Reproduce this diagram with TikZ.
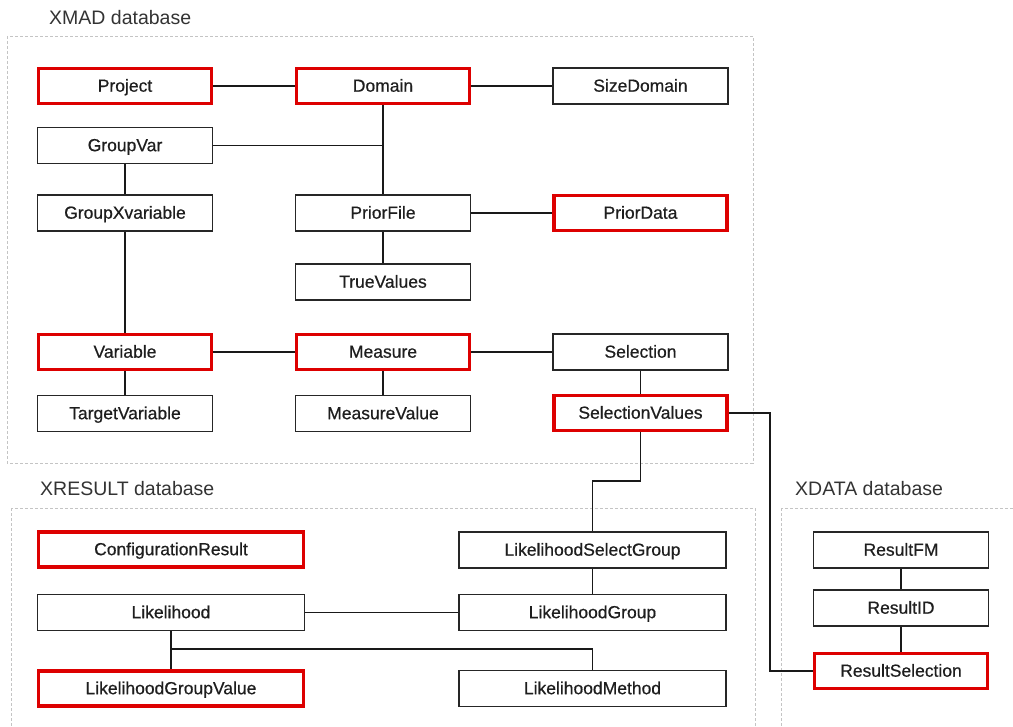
\documentclass[tikz,border=0pt]{standalone}
\usepackage{fontspec}
\setmainfont{Liberation Sans}
\newfontfamily\nodefont[FakeBold=0.6]{Liberation Sans}
\definecolor{boxred}{HTML}{DD0000}
\definecolor{txt}{HTML}{1E1E1E}
\definecolor{dashgray}{HTML}{C4C4C4}
\definecolor{titlegray}{HTML}{333333}
\begin{document}
\begin{tikzpicture}[x=1bp,y=-1bp,
  box/.style={draw=black!85, line width=1.3bp, rectangle, inner sep=0pt,
    minimum height=36bp, text=txt, text height=12.6bp, text depth=1.2bp,
    font=\nodefont\fontsize{17.5bp}{20bp}\selectfont},
  redbox/.style={box, draw=boxred, line width=3.2bp, minimum height=35bp},
  wA/.style={minimum width=175bp},
  rA/.style={minimum width=173bp},
  wD/.style={minimum width=267bp},
  rD/.style={minimum width=265bp},
  conn/.style={draw=black!90, line width=1.3bp},
  container/.style={draw=dashgray, line width=0.9bp, dash pattern=on 3bp off 2bp},
  title/.style={anchor=west, inner sep=0pt, text=titlegray,
    font=\fontsize{19.5bp}{22bp}\selectfont}
]
\useasboundingbox (0,0) rectangle (1013,727);
% containers
\draw[container] (7,36) rectangle (753,463);
\begin{scope}
\clip (0,0) rectangle (1013,727);
\draw[container] (11,508) rectangle (755,740);
\draw[container] (781,508) rectangle (1030,740);
\end{scope}
\node[title] (t1) at (49,18) {XMAD database};
\node[title] (t2) at (40,489) {XRESULT database};
\node[title] (t3) at (795,489) {XDATA database};

% XMAD nodes
\node[redbox,rA] (project) at (125,86) {Project};
\node[redbox,rA] (domain) at (383,86) {Domain};
\node[box,wA] (sizedomain) at (640.5,86) {SizeDomain};
\node[box,wA] (groupvar) at (125,145.5) {GroupVar};
\node[box,wA] (groupx) at (125,213) {GroupXvariable};
\node[box,wA] (priorfile) at (383,213) {PriorFile};
\node[redbox,rA] (priordata) at (640.5,213) {PriorData};
\node[box,wA] (truevalues) at (383,282) {TrueValues};
\node[redbox,rA] (variable) at (125,352) {Variable};
\node[redbox,rA] (measure) at (383,352) {Measure};
\node[box,wA] (selection) at (640.5,352) {Selection};
\node[box,wA] (targetvar) at (125,413.5) {TargetVariable};
\node[box,wA] (measurevalue) at (383,413.5) {MeasureValue};
\node[redbox,rA] (selvalues) at (640.5,413) {SelectionValues};

% XRESULT nodes
\node[redbox,rD] (configres) at (171,549.5) {ConfigurationResult};
\node[box,wD] (likelihood) at (171,612.5) {Likelihood};
\node[redbox,rD] (lgv) at (171,688.5) {LikelihoodGroupValue};
\node[box,wD] (lsg) at (592.5,550) {LikelihoodSelectGroup};
\node[box,wD] (lgroup) at (592.5,612.5) {LikelihoodGroup};
\node[box,wD] (lmethod) at (592.5,688.5) {LikelihoodMethod};

% XDATA nodes
\node[box,wA] (resultfm) at (901,550) {ResultFM};
\node[box,wA] (resultid) at (901,608) {ResultID};
\node[redbox,rA] (resultsel) at (901,671) {ResultSelection};

% junction coordinates
\coordinate (jgv) at (domain.south |- groupvar.east);
\coordinate (jsv) at (640.5,481);
\coordinate (jsv2) at (592.5,481);
\coordinate (jsr) at (770,413);
\coordinate (jsr2) at (770,671);
\coordinate (jlk) at (171,649);
\coordinate (jlk2) at (592.5,649);

% connectors
\draw[conn] (project) -- (domain);
\draw[conn] (domain) -- (sizedomain);
\draw[conn] (domain) -- (priorfile);
\draw[conn] (groupvar) -- (jgv);
\draw[conn] (groupvar) -- (groupx);
\draw[conn] (groupx) -- (variable);
\draw[conn] (priorfile) -- (priordata);
\draw[conn] (priorfile) -- (truevalues);
\draw[conn] (variable) -- (measure);
\draw[conn] (measure) -- (selection);
\draw[conn] (variable) -- (targetvar);
\draw[conn] (measure) -- (measurevalue);
\draw[conn] (selection) -- (selvalues);
\draw[conn] (selvalues.south) -- (jsv) -- (jsv2) -- (lsg.north);
\draw[conn] (selvalues.east) -- (jsr) -- (jsr2) -- (resultsel.west);
\draw[conn] (lsg) -- (lgroup);
\draw[conn] (likelihood) -- (lgroup);
\draw[conn] (likelihood) -- (lgv);
\draw[conn] (jlk) -- (jlk2) -- (lmethod.north);
\draw[conn] (resultfm) -- (resultid);
\draw[conn] (resultid) -- (resultsel);
\end{tikzpicture}
\end{document}
